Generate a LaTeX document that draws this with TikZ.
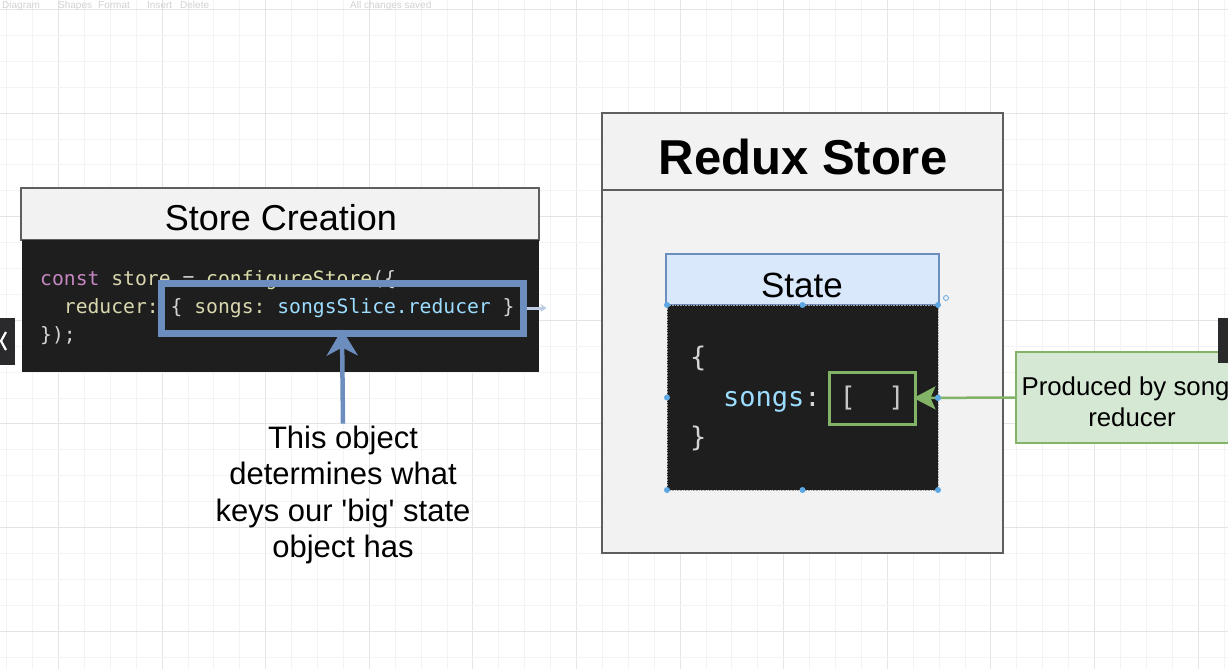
\documentclass[tikz,border=0pt]{standalone}
\usepackage{fontspec}
\setmainfont{Liberation Sans}[Ligatures=TeXOff]
\newfontfamily\codefont{DejaVu Sans Mono}
\usetikzlibrary{arrows.meta}
\definecolor{gridminor}{HTML}{F3F3F3}
\definecolor{gridmajor}{HTML}{E4E4E4}
\definecolor{hdrfill}{HTML}{F2F2F2}
\definecolor{frame}{HTML}{5E5E5E}
\definecolor{codebg}{HTML}{1E1E1E}
\definecolor{blueline}{HTML}{6C8EBF}
\definecolor{statefill}{HTML}{DAE8FC}
\definecolor{greenline}{HTML}{82B366}
\definecolor{greenfill}{HTML}{D5E8D4}
\definecolor{kw}{HTML}{C586C0}
\definecolor{pale}{HTML}{D9D6AE}
\definecolor{fn}{HTML}{DCDCAA}
\definecolor{pun}{HTML}{D4D4D4}
\definecolor{lblue}{HTML}{9CDCFE}
\definecolor{handle}{HTML}{5DA7E3}
\definecolor{tabdark}{HTML}{2A2A2C}
\definecolor{tbtext}{HTML}{D2D2D2}
\frenchspacing
\begin{document}
\begin{tikzpicture}[x=1pt,y=-1pt,
  box/.style={rectangle, anchor=north west, inner sep=0pt, outer sep=0pt},
  code/.style={font=\codefont\fontsize{19.7}{28}\selectfont, inner sep=0pt, anchor=base west},
  scode/.style={font=\codefont\fontsize{27}{40}\selectfont, inner sep=0pt},
  tb/.style={font=\fontsize{10}{12}\selectfont, text=tbtext, inner sep=0pt, anchor=base west},
  bluearrow/.style={draw=blueline, line width=4.5pt, -{Stealth[length=26pt, width=31pt, inset=8pt]}},
  greenarrow/.style={draw=greenline, line width=2.5pt, -{Stealth[length=22pt, width=23pt, inset=5pt]}},
  hdot/.style={fill=handle}]
\useasboundingbox (0,0) rectangle (1228,669);
\clip (0,0) rectangle (1228,669);
\fill[white] (0,0) rectangle (1228,669);
% grid
\foreach \i in {0,...,47} {
  \pgfmathsetmacro{\gx}{6.6+\i*25.9}
  \pgfmathtruncatemacro{\m}{mod(\i+2,4)}
  \ifnum\m=0 \draw[gridmajor, line width=0.9pt] (\gx,0) -- (\gx,669);
  \else \draw[gridminor, line width=0.8pt] (\gx,0) -- (\gx,669); \fi
}
\foreach \i in {0,...,26} {
  \pgfmathsetmacro{\gy}{9.4+\i*25.9}
  \pgfmathtruncatemacro{\m}{mod(\i,4)}
  \ifnum\m=0 \draw[gridmajor, line width=0.9pt] (0,\gy) -- (1228,\gy);
  \else \draw[gridminor, line width=0.8pt] (0,\gy) -- (1228,\gy); \fi
}
% faint toolbar
\node[tb] (tb1) at (2,9) {Diagram};
\node[tb] (tb2) at (58,9) {Shapes};
\node[tb] (tb3) at (98,9) {Format};
\node[tb] (tb4) at (147,9) {Insert};
\node[tb] (tb5) at (180,9) {Delete};
\node[tb] (tb6) at (350,9) {All changes saved};

% ---------- Store Creation ----------
\node[box, fill=hdrfill, draw=frame, line width=2pt, minimum width=518pt, minimum height=52pt] (schdr) at (21,188) {};
\node[anchor=base, inner sep=0pt, font=\fontsize{36}{42}\selectfont] (sctitle) at (281,230) {Store Creation};
\node[box, fill=codebg, minimum width=517pt, minimum height=132pt] (sccode) at (22,240) {};
\node[code] (l1) at (40,285) {\color{kw}const \color{pale}store \color{pun}= \color{fn}configureStore\color{pun}(\{};
\node[code] (l2) at (63.7,313) {\color{pale}reducer: \color{pun}\{ \color{pale}songs: \color{lblue}songsSlice.reducer \color{pun}\}};
\node[code] (l3) at (40,341) {\color{pun}\});};
\node[box, draw=blueline, line width=7pt, minimum width=362pt, minimum height=50pt] (sel) at (161,283) {};
\draw[draw=blueline!45, line width=3pt, -{Stealth[length=6pt,width=8pt]}] (sel.east) ++(3.5,0) -- ++(20,0);

\node[align=center, inner sep=2pt, font=\fontsize{31}{36.5}\selectfont] (note) at (343,495) {This object\\determines what\\keys our 'big' state\\object has};
\draw[bluearrow, shorten >=-3.5pt] (note.north) -- (sel.south);

% ---------- Redux Store ----------
\node[box, fill=hdrfill, draw=frame, line width=2.5pt, minimum width=401pt, minimum height=440pt] (store) at (602,113) {};
\draw[frame, line width=2.5pt] (602,190) -- (1003,190);
\node[anchor=base, inner sep=0pt, font=\bfseries\fontsize{49}{58}\selectfont] (storetitle) at (803,174) {Redux Store};

\node[box, fill=statefill, draw=blueline, line width=2.5pt, minimum width=273pt, minimum height=51pt] (sthdr) at (666,254) {};
\node[anchor=base, inner sep=0pt, font=\fontsize{35}{40}\selectfont] (sttitle) at (802,297) {State};
\node[box, fill=codebg, draw=gray!70, densely dotted, line width=0.6pt, minimum width=271pt, minimum height=185pt] (stcode) at (667,305) {};
\node[scode, anchor=base west, text=pun] (ob) at (690,366) {\{};
\node[scode, anchor=base west, text=lblue] (songs) at (723,406) {songs\textcolor{pun}{:}};
\node[scode, anchor=base west, text=pun] (cb) at (690,446) {\}};
\node[box, draw=greenline, line width=3pt, minimum width=86pt, minimum height=52pt] (arr) at (829,372) {};
\node[scode, anchor=base, text=pun!85!gray] (brk) at (872,406) {[~~]};

% handles
\foreach \p in {stcode.north west, stcode.north, stcode.north east, stcode.west, stcode.east, stcode.south west, stcode.south, stcode.south east}
  \fill[hdot] (\p) circle (3pt);
\draw[handle, line width=0.8pt] (946,298) circle (2.5pt);

% ---------- Produced by ----------
\node[box, fill=greenfill, draw=greenline, line width=2.5pt, minimum width=232pt, minimum height=91pt] (prod) at (1016,352) {};
\node[align=center, inner sep=0pt, font=\fontsize{25.8}{31}\selectfont] (prodtxt) at (1132,402) {Produced by songs\\reducer};
\draw[greenarrow, shorten >=-1.5pt] (prod.west) -- (arr.east);
\fill[handle] (938,398) circle (3pt);

% side tabs
\fill[tabdark] (0,318) rectangle (15,365);
\draw[white, line width=2.2pt] (6,332) -- (1,341) -- (6,350);
\fill[tabdark] (1218,318) rectangle (1228,363);
\end{tikzpicture}
\end{document}
